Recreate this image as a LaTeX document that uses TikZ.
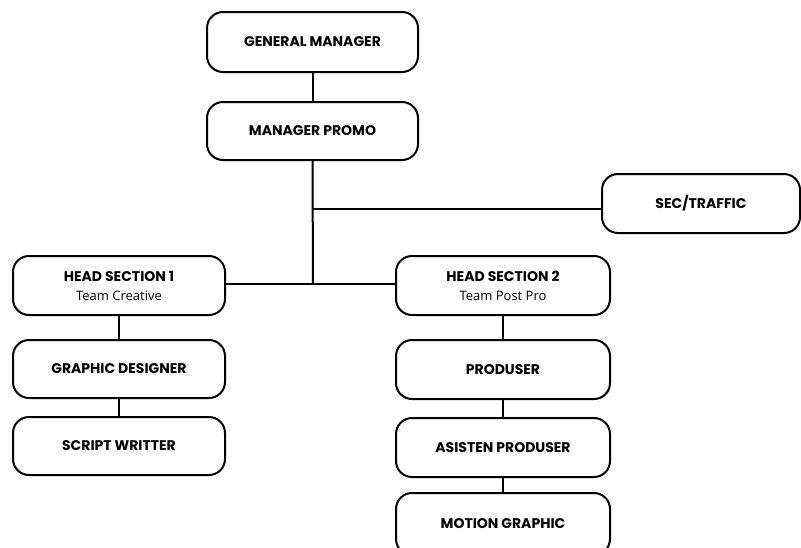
\documentclass[tikz,border=0pt]{standalone}
\usepackage{fontspec}
\newfontfamily\popfont{Poppins}
\newfontfamily\subfont{Open Sans}
\begin{document}
\begin{tikzpicture}[x=1pt,y=-1pt,
  box/.style={draw=black, line width=2pt, rounded corners=16pt, fill=white,
    minimum width=212pt, minimum height=59pt, inner sep=0pt, align=center,
    font=\popfont\bfseries\fontsize{14}{19}\selectfont},
  conn/.style={line width=2pt}]
\useasboundingbox (0,0) rectangle (801,547);
\clip (0,0) rectangle (801,547);
\fill[white] (0,0) rectangle (801,547);
\node[box, minimum width=211pt, minimum height=60pt] (gm) at (312.5,42) {GENERAL MANAGER};
\node[box, minimum width=211pt, minimum height=58pt] (mp) at (312.5,131) {MANAGER PROMO};
\node[box, minimum width=198pt] (sec) at (701,203.5) {SEC/TRAFFIC};
\node[box] (hs1) at (119,285.5) {HEAD SECTION 1\\{\subfont\mdseries\fontsize{13}{19}\selectfont Team Creative}};
\node[box, minimum height=58pt] (gd) at (119,369) {GRAPHIC DESIGNER};
\node[box, minimum height=58pt] (sw) at (119,446) {SCRIPT WRITTER};
\node[box, minimum width=214pt] (hs2) at (503,285.5) {HEAD SECTION 2\\{\subfont\mdseries\fontsize{13}{19}\selectfont Team Post Pro}};
\node[box, minimum width=214pt] (pr) at (503,369.5) {PRODUSER};
\node[box, minimum width=214pt] (ap) at (503,447.5) {ASISTEN PRODUSER};
\node[box, minimum width=214pt, minimum height=62pt] (mg) at (503,524) {MOTION GRAPHIC};
\coordinate (b) at (313,209);
\coordinate (j) at (313,284);
\draw[conn] (gm) -- (mp);
\draw[conn] (mp.south) -- (j);
\draw[conn] (b) -- (sec.west |- b);
\draw[conn] (hs1.east |- j) -- (hs2.west |- j);
\draw[conn] (hs1) -- (gd);
\draw[conn] (gd) -- (sw);
\draw[conn] (hs2) -- (pr);
\draw[conn] (pr) -- (ap);
\draw[conn] (ap) -- (mg);
\end{tikzpicture}
\end{document}
